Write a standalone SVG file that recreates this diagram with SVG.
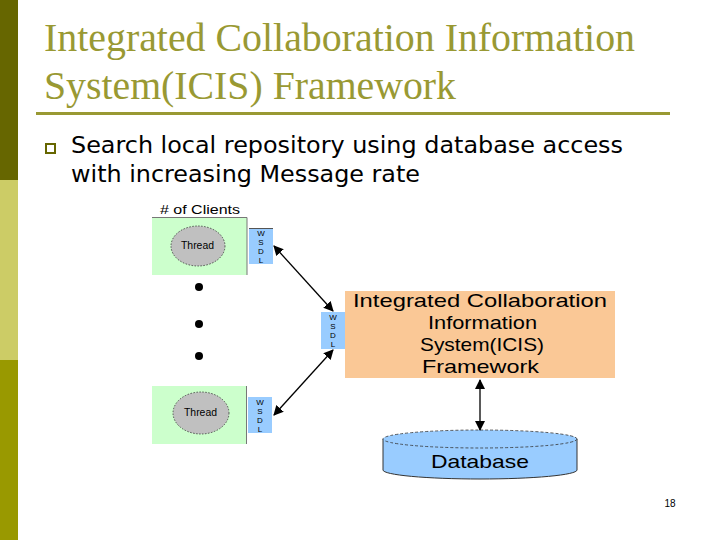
<svg xmlns="http://www.w3.org/2000/svg" width="720" height="540" viewBox="0 0 720 540">
<defs>
<marker id="ah" viewBox="0 0 10 10" refX="9" refY="5" markerWidth="10" markerHeight="10" markerUnits="userSpaceOnUse" orient="auto-start-reverse">
<path d="M0,0 L10,5 L0,10 z" fill="#000"/>
</marker>
<style>
.title{font-family:"Liberation Serif",serif;font-size:40px;fill:#999933}
.body{font-family:"DejaVu Sans",Verdana,sans-serif;font-size:23px;fill:#000}
.lbl{font-family:"Liberation Sans",Arial,sans-serif;fill:#000}
.green{fill:#ccffcc}
.thread{fill:#c0c0c0;stroke:#333;stroke-width:0.8;stroke-dasharray:1.5 1.5}
.wsdl{fill:#99ccff}
.ws{font-family:"Liberation Sans",Arial,sans-serif;font-size:8px;fill:#000;text-anchor:middle}
.conn{stroke:#000;stroke-width:1.3;fill:none;marker-start:url(#ah);marker-end:url(#ah)}
</style>
</defs>
<rect width="720" height="540" fill="#fff"/>
<g id="sidebar">
<rect x="0" y="0" width="18" height="180" fill="#666600"/>
<rect x="0" y="180" width="18" height="180" fill="#cccc66"/>
<rect x="0" y="360" width="18" height="180" fill="#999900"/>
</g>
<g id="title">
<text class="title" x="44" y="51" textLength="591" lengthAdjust="spacingAndGlyphs">Integrated Collaboration Information</text>
<text class="title" x="44" y="99" textLength="412" lengthAdjust="spacingAndGlyphs">System(ICIS) Framework</text>
<rect x="36" y="112" width="634" height="3" fill="#999933"/>
</g>
<g id="bullet">
<rect x="46" y="144" width="9" height="9" fill="none" stroke="#666600" stroke-width="2"/>
<text class="body" x="71" y="153" textLength="552" lengthAdjust="spacingAndGlyphs">Search local repository using database access</text>
<text class="body" x="71" y="182" textLength="349" lengthAdjust="spacingAndGlyphs">with increasing Message rate</text>
</g>
<g id="client-top">
<text class="lbl" x="160" y="214" font-size="13" textLength="80" lengthAdjust="spacingAndGlyphs"># of Clients</text>
<rect class="green" x="152" y="217" width="95" height="58"/>
<path d="M152,217.5 H247 V275" stroke="#777" stroke-width="1" fill="none"/>
<ellipse class="thread" cx="198" cy="246" rx="27" ry="20"/>
<text class="lbl" x="181" y="249" font-size="10" textLength="33" lengthAdjust="spacingAndGlyphs">Thread</text>
</g>
<g id="wsdl-top">
<rect class="wsdl" x="249" y="228" width="24" height="36"/>
<line x1="249" y1="228.5" x2="273" y2="228.5" stroke="#555" stroke-width="1"/>
<text class="ws" x="261" y="236">W</text>
<text class="ws" x="261" y="245">S</text>
<text class="ws" x="261" y="254">D</text>
<text class="ws" x="261" y="263">L</text>
</g>
<g id="dots">
<circle cx="199" cy="287" r="4" fill="#000"/>
<circle cx="199" cy="324" r="4" fill="#000"/>
<circle cx="199" cy="356" r="4" fill="#000"/>
</g>
<g id="client-bottom">
<rect class="green" x="152" y="386" width="95" height="58"/>
<line x1="246.5" y1="386" x2="246.5" y2="444" stroke="#777" stroke-width="1"/>
<ellipse class="thread" cx="201" cy="413" rx="28" ry="21"/>
<text class="lbl" x="184" y="416" font-size="10" textLength="33" lengthAdjust="spacingAndGlyphs">Thread</text>
</g>
<g id="wsdl-bottom">
<rect class="wsdl" x="248" y="397" width="24" height="36"/>
<text class="ws" x="260" y="405">W</text>
<text class="ws" x="260" y="414">S</text>
<text class="ws" x="260" y="423">D</text>
<text class="ws" x="260" y="432">L</text>
</g>
<g id="wsdl-mid">
<rect class="wsdl" x="321" y="312" width="24" height="37"/>
<text class="ws" x="333" y="320">W</text>
<text class="ws" x="333" y="329">S</text>
<text class="ws" x="333" y="338">D</text>
<text class="ws" x="333" y="347">L</text>
</g>
<g id="icis">
<rect x="345" y="291" width="270" height="87" fill="#fac896"/>
<g class="lbl" font-size="19">
<text x="353" y="307" textLength="254" lengthAdjust="spacingAndGlyphs">Integrated Collaboration</text>
<text x="428" y="329" textLength="109" lengthAdjust="spacingAndGlyphs">Information</text>
<text x="420" y="351" textLength="124" lengthAdjust="spacingAndGlyphs">System(ICIS)</text>
<text x="422" y="373" textLength="117" lengthAdjust="spacingAndGlyphs">Framework</text>
</g>
</g>
<g id="database">
<path d="M383,439 V470 A97,9 0 0 0 577,470 V439" fill="#99ccff" stroke="#333" stroke-width="1"/>
<ellipse cx="480" cy="439" rx="97" ry="9" fill="#99ccff" stroke="#333" stroke-width="0.8" stroke-dasharray="3 2"/>
<text class="lbl" x="431" y="468" font-size="19" fill="#000033" textLength="98" lengthAdjust="spacingAndGlyphs">Database</text>
</g>
<g id="connectors">
<line class="conn" x1="274" y1="246" x2="333" y2="311"/>
<line class="conn" x1="274" y1="415" x2="333" y2="350"/>
<line class="conn" x1="480" y1="380" x2="480" y2="430"/>
</g>
<text class="lbl" x="670" y="507" font-size="10" text-anchor="middle">18</text>
</svg>
